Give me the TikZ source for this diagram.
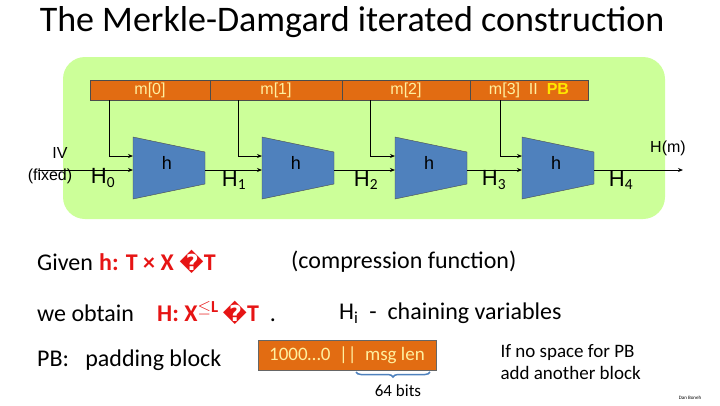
\documentclass[tikz,border=0pt]{standalone}
\usepackage{fontspec}
\setmainfont{Carlito}
\newfontfamily\arialf{Liberation Sans}
\newfontfamily\djv{DejaVu Sans}
\usetikzlibrary{arrows.meta,decorations.pathreplacing}
\definecolor{lgreen}{RGB}{204,255,153}
\definecolor{orng}{RGB}{226,108,18}
\definecolor{hblue}{RGB}{79,129,189}
\definecolor{pbyel}{RGB}{255,230,0}
\definecolor{ltyel}{RGB}{255,240,160}
\definecolor{redt}{RGB}{230,20,20}
\tikzset{
 seg/.style={draw=black!70,fill=orng,minimum height=20pt,inner sep=0pt,font=\arialf\fontsize{16}{18}\selectfont,text=ltyel},
 wire/.style={line width=1pt,-{Stealth[length=5pt,width=4pt]}},
 lbl/.style={font=\arialf\fontsize{16}{18}\selectfont,inner sep=0pt},
 hlbl/.style={font=\arialf\fontsize{22}{24}\selectfont,inner sep=0pt},
 body/.style={font=\fontsize{24}{28}\selectfont,inner sep=0pt,anchor=west},
 red/.style={font=\bfseries\fontsize{24}{28}\selectfont,text=redt,inner sep=0pt,anchor=west}
}
\begin{document}
\begin{tikzpicture}[x=1pt,y=-1pt]
\useasboundingbox (0,0) rectangle (720,405);
\node[font=\fontsize{36}{40}\selectfont] (title) at (352,22) {The Merkle-Damgard iterated construction};
\fill[lgreen,rounded corners=22pt] (63,57) rectangle (665,219);
% message bar
\node[seg,minimum width=120pt] (m0) at (150,90) {m[0]};
\node[seg,minimum width=132pt] (m1) at (276,90) {m[1]};
\node[seg,minimum width=128pt] (m2) at (406,90) {m[2]};
\node[seg,minimum width=118pt] (m3) at (529,90) {m[3]\ \ II\ \ \textcolor{pbyel}{\bfseries PB}};
% triangles
\foreach \i/\x in {0/133,1/262,2/395,3/522}{
 \draw[black!70,fill=hblue] (\x,137) -- (\x+72,152) -- (\x+72,184) -- (\x,199) -- cycle;
 \node[lbl,font=\arialf\fontsize{18}{20}\selectfont] (h\i) at (\x+34,163) {h};
 \coordinate (in\i) at (\x,170);
 \coordinate (tin\i) at (\x,156);
 \coordinate (out\i) at (\x+72,170);
}
% vertical drops
\foreach \i/\x in {0/109,1/238,2/370,3/500}{
 \draw[line width=0.6pt] (\x,100) -- (\x,156);
 \draw[wire] (\x,156) -- (tin\i);
}
\coordinate (ivs) at (38,170);
\coordinate (end) at (683,170);
\draw[wire] (ivs) -- (in0);
\draw[wire] (out0) -- (in1);
\draw[wire] (out1) -- (in2);
\draw[wire] (out2) -- (in3);
\draw[wire] (out3) -- (end);
\node[lbl] (iv) at (60,153) {IV};
\node[lbl] (fx) at (50,176) {(fixed)};
\node[hlbl] (H0) at (103,178) {H$_{\mathrm 0}$};
\node[hlbl] (H1) at (234,180) {H$_{\mathrm 1}$};
\node[hlbl] (H2) at (366,180) {H$_{\mathrm 2}$};
\node[hlbl] (H3) at (494,180) {H$_{\mathrm 3}$};
\node[hlbl] (H4) at (621,180) {H$_{\mathrm 4}$};
\node[lbl] (Hm) at (668,148) {H(m)};
% text lines
\node[body] (g) at (37,262) {Given};
\node[red] (g2) at (99,262) {h: T × X {\djv\fontsize{22}{24}\selectfont �}T};
\node[body] (cf) at (291,262) {(compression function)};
\node[body] (wo) at (37,313) {we obtain};
\node[red] (wo2) at (157,313) {H: X$^{\mathbf{\le L}}$\,{\djv\fontsize{22}{24}\selectfont �}T\ \ {\mdseries\textcolor{black}{.}}};
\node[body] (hi) at (339,313) {H$_{\mathrm i}$\ \ -\ \ chaining variables};
\node[body] (pb) at (37,360) {PB:\ \ \ padding block};
\node[draw=black!60,fill=orng,minimum width=178pt,minimum height=30pt,inner sep=0pt,text=ltyel,font=\fontsize{19}{21}\selectfont] (pad) at (347,355) {1000…0\ \ ||\ \ msg len};
\draw[decorate,decoration={brace,mirror,amplitude=5pt},draw=hblue,line width=1.5pt] (356,372) -- (430,372);
\node[font=\fontsize{17}{19}\selectfont] (bits) at (398,391) {64 bits};
\node[font=\fontsize{19}{22}\selectfont,align=left,anchor=west] (nospace) at (497,362) {If no space for PB\\add another block};
\node[font=\fontsize{5}{6}\selectfont] (db) at (690,398) {Dan Boneh};
\end{tikzpicture}
\end{document}
